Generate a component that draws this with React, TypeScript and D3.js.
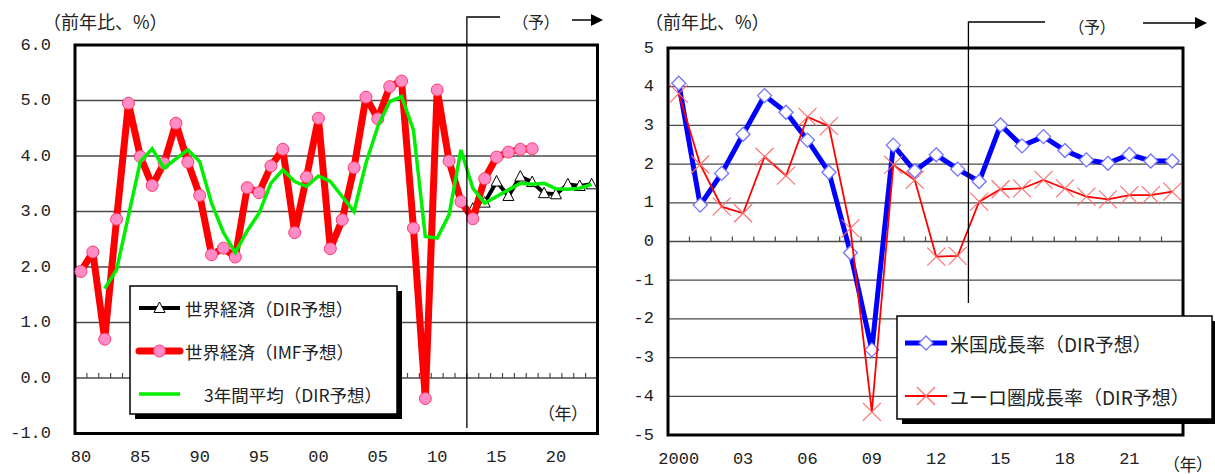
import React, { useRef, useEffect } from 'react'
import * as d3 from 'd3'

// ---- left panel: world growth ----
const worldYears = d3.range(1980, 2024)
const imfYears = d3.range(1980, 2019)
const imfValues = [1.92, 2.27, 0.70, 2.86, 4.95, 3.99, 3.47, 3.87, 4.59, 3.89, 3.29, 2.22, 2.34, 2.18, 3.43, 3.34, 3.82, 4.12, 2.62, 3.62, 4.68, 2.33, 2.85, 3.79, 5.06, 4.67, 5.25, 5.35, 2.70, -0.37, 5.19, 3.91, 3.18, 2.87, 3.59, 3.98, 4.07, 4.12, 4.13]
const dirYears = d3.range(2013, 2024)
const dirValues = [3.05, 3.16, 3.54, 3.28, 3.63, 3.53, 3.33, 3.31, 3.49, 3.46, 3.49]
const avgYears = d3.range(1982, 2024)
const avgValues = [1.61, 1.95, 2.92, 3.90, 4.13, 3.78, 3.95, 4.11, 3.90, 3.15, 2.62, 2.26, 2.65, 2.97, 3.51, 3.75, 3.54, 3.45, 3.64, 3.54, 3.27, 3.00, 3.87, 4.53, 4.98, 5.07, 4.47, 2.55, 2.52, 2.94, 4.11, 3.42, 3.15, 3.27, 3.39, 3.51, 3.49, 3.51, 3.41, 3.40, 3.42, 3.49]
const leftYTicks = [6, 5, 4, 3, 2, 1, 0, -1]
const leftXTickYears = [1980, 1985, 1990, 1995, 2000, 2005, 2010, 2015, 2020]
const leftXTickLabels = ['80', '85', '90', '95', '00', '05', '10', '15', '20']

// ---- right panel: US / Euro ----
const usEuYears = d3.range(2000, 2024)
const usValues = [4.09, 0.94, 1.76, 2.77, 3.77, 3.34, 2.62, 1.79, -0.29, -2.80, 2.49, 1.82, 2.24, 1.87, 1.55, 3.01, 2.47, 2.71, 2.35, 2.11, 2.02, 2.25, 2.08, 2.08]
const euValues = [3.82, 1.99, 0.90, 0.73, 2.19, 1.70, 3.22, 2.98, 0.34, -4.40, 1.98, 1.59, -0.39, -0.37, 1.03, 1.35, 1.37, 1.59, 1.37, 1.16, 1.09, 1.20, 1.20, 1.29]
const rightYTicks = [5, 4, 3, 2, 1, 0, -1, -2, -3, -4, -5]
const rightXTickYears = [2000, 2003, 2006, 2009, 2012, 2015, 2018, 2021]
const rightXTickLabels = ['2000', '03', '06', '09', '12', '15', '18', '21']

const JP = '"Noto Sans CJK JP", sans-serif'
const NUM = '"Liberation Mono", monospace'

const App = () => {
  const svgRef = useRef(null)

  useEffect(() => {
    const svg = d3.select(svgRef.current)
    svg.selectAll('*').remove()

    // shared drawing of a panel's grid, frame, axis labels
    const panel = (opts) => {
      const { x, y, years, yTicks, fmt, tickX, xTickYears, xTickLabels, labelY } = opts
      const g = svg.append('g')
      const [x0, x1] = x.range()
      const [yb, yt] = y.range()
      // gridlines
      g.selectAll('.grid')
        .data(yTicks.filter(t => t !== y.domain()[0] && t !== y.domain()[1]))
        .join('line')
        .attr('x1', x0).attr('x2', x1)
        .attr('y1', t => y(t)).attr('y2', t => y(t))
        .attr('stroke', '#4a4a4a').attr('stroke-width', 1.3)
      // small ticks on the zero line
      g.selectAll('.zt')
        .data(years.slice(1))
        .join('line')
        .attr('x1', d => x(d)).attr('x2', d => x(d))
        .attr('y1', y(0)).attr('y2', y(0) - 5)
        .attr('stroke', '#4a4a4a').attr('stroke-width', 1.2)
      // y labels
      g.selectAll('.yl')
        .data(yTicks)
        .join('text')
        .attr('x', tickX).attr('y', t => y(t))
        .attr('text-anchor', 'end').attr('dominant-baseline', 'central')
        .attr('font-family', NUM).attr('font-size', 17).attr('fill', '#222')
        .text(fmt)
      // x labels
      g.selectAll('.xl')
        .data(xTickYears)
        .join('text')
        .attr('x', d => x(d) + x.bandwidth() / 2).attr('y', labelY)
        .attr('text-anchor', 'middle').attr('dominant-baseline', 'central')
        .attr('font-family', NUM).attr('font-size', 17).attr('fill', '#222')
        .text((d, i) => xTickLabels[i])
      return { g, frame: () => g.append('rect').attr('x', x0).attr('y', yt).attr('width', x1 - x0).attr('height', yb - yt)
        .attr('fill', 'none').attr('stroke', '#000').attr('stroke-width', 3) }
    }

    const forecast = (x, year, top, bottom, hEnd, label, labelX, arrow) => {
      const fx = x(year)
      svg.append('path')
        .attr('d', `M${hEnd},${top}H${fx}V${bottom}`)
        .attr('fill', 'none').attr('stroke', '#000').attr('stroke-width', 1.3)
      svg.append('text').attr('x', labelX).attr('y', top + 4)
        .attr('font-family', JP).attr('font-size', 16).attr('fill', '#222')
        .attr('dominant-baseline', 'central').style('font-feature-settings', '"palt"')
        .text(label)
      const [ax0, ax1, ay] = arrow
      svg.append('line').attr('x1', ax0).attr('x2', ax1 - 10).attr('y1', ay).attr('y2', ay)
        .attr('stroke', '#000').attr('stroke-width', 1.5)
      svg.append('path').attr('d', `M${ax1},${ay}L${ax1 - 12},${ay - 6}L${ax1 - 12},${ay + 6}Z`).attr('fill', '#000')
    }

    const legendBox = (bx, by, bw, bh) => {
      svg.append('rect').attr('x', bx + 5).attr('y', by + 5).attr('width', bw).attr('height', bh).attr('fill', '#000')
      svg.append('rect').attr('x', bx).attr('y', by).attr('width', bw).attr('height', bh)
        .attr('fill', '#fff').attr('stroke', '#000').attr('stroke-width', 1.5)
    }

    const triangle = (sel, cx, cy) => sel.append('path')
      .attr('d', `M${cx},${cy - 6}L${cx + 5.5},${cy + 4.5}L${cx - 5.5},${cy + 4.5}Z`)
      .attr('fill', '#fff').attr('stroke', '#000').attr('stroke-width', 1)

    // ===== LEFT =====
    const xL = d3.scaleBand().domain(worldYears).range([75, 597.5])
    const yL = d3.scaleLinear().domain([-1, 6]).range([433.5, 45])
    const cxL = d => xL(d) + xL.bandwidth() / 2
    const left = panel({ x: xL, y: yL, years: worldYears, yTicks: leftYTicks, fmt: t => t.toFixed(1), tickX: 51,
      xTickYears: leftXTickYears, xTickLabels: leftXTickLabels, labelY: 457 })

    const lineL = d3.line().x(d => cxL(d[0])).y(d => yL(d[1]))

    const dirPts = dirYears.map((yr, i) => [yr, dirValues[i]])
    svg.append('path').attr('d', lineL(dirPts)).attr('fill', 'none').attr('stroke', '#000').attr('stroke-width', 4)
    const tri = svg.append('g')
    dirPts.forEach(p => triangle(tri, cxL(p[0]), yL(p[1])))

    const imfPts = imfYears.map((yr, i) => [yr, imfValues[i]])
    svg.append('path').attr('d', lineL(imfPts)).attr('fill', 'none').attr('stroke', '#ff0000')
      .attr('stroke-width', 7).attr('stroke-linejoin', 'round')
    svg.selectAll('.imf').data(imfPts).join('circle')
      .attr('cx', d => cxL(d[0])).attr('cy', d => yL(d[1])).attr('r', 6)
      .attr('fill', '#ff8cc6').attr('stroke', '#ff3b6b').attr('stroke-width', 1)

    const avgPts = avgYears.map((yr, i) => [yr, avgValues[i]])
    svg.append('path').attr('d', lineL(avgPts)).attr('fill', 'none').attr('stroke', '#00ee00').attr('stroke-width', 3.5)

    left.frame()
    svg.append('text').attr('x', 43).attr('y', 21).attr('font-family', JP).attr('font-size', 18).attr('fill', '#222')
      .attr('dominant-baseline', 'central').text('（前年比、%）')
    svg.append('text').attr('x', 546).attr('y', 412).attr('font-family', JP).attr('font-size', 17).attr('fill', '#222')
      .attr('dominant-baseline', 'central').style('font-feature-settings', '"palt"').text('（年）')
    forecast(xL, 2013, 17, 428, 500, '（予）', 520, [572, 603, 20])

    legendBox(130, 286, 267, 128)
    const legL = [
      { label: '世界経済（DIR予想）', kind: 'dir', tx: 185 },
      { label: '世界経済（IMF予想）', kind: 'imf', tx: 185 },
      { label: '3年間平均（DIR予想）', kind: 'avg', tx: 204 },
    ]
    const legY = d3.scalePoint().domain(legL.map(d => d.kind)).range([308, 394])
    legL.forEach(d => {
      const ly = legY(d.kind)
      if (d.kind === 'dir') {
        svg.append('line').attr('x1', 139).attr('x2', 180).attr('y1', ly).attr('y2', ly).attr('stroke', '#000').attr('stroke-width', 4)
        triangle(svg, 159.5, ly)
      } else if (d.kind === 'imf') {
        svg.append('line').attr('x1', 139).attr('x2', 180).attr('y1', ly).attr('y2', ly).attr('stroke', '#ff0000').attr('stroke-width', 7).attr('stroke-linecap', 'round')
        svg.append('circle').attr('cx', 159.5).attr('cy', ly).attr('r', 6).attr('fill', '#ff8cc6').attr('stroke', '#ff3b6b')
      } else {
        svg.append('line').attr('x1', 139).attr('x2', 180).attr('y1', ly).attr('y2', ly).attr('stroke', '#00ee00').attr('stroke-width', 3.5)
      }
      svg.append('text').attr('x', d.tx).attr('y', ly).attr('dominant-baseline', 'central')
        .attr('font-family', JP).attr('font-size', 17.5).attr('fill', '#222').text(d.label)
    })

    // ===== RIGHT =====
    const xR = d3.scaleBand().domain(usEuYears).range([668, 1183])
    const yR = d3.scaleLinear().domain([-5, 5]).range([435, 48])
    const cxR = d => xR(d) + xR.bandwidth() / 2
    const right = panel({ x: xR, y: yR, years: usEuYears, yTicks: rightYTicks, fmt: t => String(t), tickX: 654,
      xTickYears: rightXTickYears, xTickLabels: rightXTickLabels, labelY: 459 })

    const lineR = d3.line().x(d => cxR(d[0])).y(d => yR(d[1]))
    const usPts = usEuYears.map((yr, i) => [yr, usValues[i]])
    const euPts = usEuYears.map((yr, i) => [yr, euValues[i]])

    svg.append('path').attr('d', lineR(usPts)).attr('fill', 'none').attr('stroke', '#0000ff').attr('stroke-width', 5)
    svg.selectAll('.us').data(usPts).join('path')
      .attr('d', d => { const cx = cxR(d[0]), cy = yR(d[1]); return `M${cx},${cy - 7}L${cx + 7},${cy}L${cx},${cy + 7}L${cx - 7},${cy}Z` })
      .attr('fill', '#fff').attr('stroke', '#7272ff').attr('stroke-width', 1.3)

    svg.append('path').attr('d', lineR(euPts)).attr('fill', 'none').attr('stroke', '#ff0000').attr('stroke-width', 1.8)
    svg.selectAll('.eu').data(euPts).join('path')
      .attr('d', d => { const cx = cxR(d[0]), cy = yR(d[1]); return `M${cx - 9},${cy - 9}L${cx + 9},${cy + 9}M${cx + 9},${cy - 9}L${cx - 9},${cy + 9}` })
      .attr('fill', 'none').attr('stroke', '#ff6a6a').attr('stroke-width', 1.1)

    right.frame()
    svg.append('text').attr('x', 645).attr('y', 21).attr('font-family', JP).attr('font-size', 18).attr('fill', '#222')
      .attr('dominant-baseline', 'central').text('（前年比、%）')
    svg.append('text').attr('x', 1171).attr('y', 463).attr('font-family', JP).attr('font-size', 17).attr('fill', '#222')
      .attr('dominant-baseline', 'central').style('font-feature-settings', '"palt"').text('（年）')
    forecast(xR, 2014, 22, 303, 1045, '（予）', 1076, [1143, 1207, 23])

    legendBox(897, 316, 315, 103)
    const legR = [
      { label: '米国成長率（DIR予想）', kind: 'us' },
      { label: 'ユーロ圏成長率（DIR予想）', kind: 'eu' },
    ]
    const legRY = d3.scalePoint().domain(legR.map(d => d.kind)).range([343, 396])
    legR.forEach(d => {
      const ly = legRY(d.kind)
      if (d.kind === 'us') {
        svg.append('line').attr('x1', 905).attr('x2', 947).attr('y1', ly).attr('y2', ly).attr('stroke', '#0000ff').attr('stroke-width', 5)
        svg.append('path').attr('d', `M926,${ly - 7}L933,${ly}L926,${ly + 7}L919,${ly}Z`).attr('fill', '#fff').attr('stroke', '#7272ff').attr('stroke-width', 1.3)
      } else {
        svg.append('line').attr('x1', 905).attr('x2', 947).attr('y1', ly).attr('y2', ly).attr('stroke', '#ff0000').attr('stroke-width', 1.8)
        svg.append('path').attr('d', `M917,${ly - 9}L935,${ly + 9}M935,${ly - 9}L917,${ly + 9}`).attr('stroke', '#ff6a6a').attr('stroke-width', 1.1)
      }
      svg.append('text').attr('x', 950).attr('y', ly).attr('dominant-baseline', 'central')
        .attr('font-family', JP).attr('font-size', 19).attr('fill', '#222').text(d.label)
    })
  }, [])

  return (
    <svg ref={svgRef} width={1215} height={474}
      style={{ position: 'absolute', left: 0, top: 0, background: '#fff' }} />
  )
}

export default App
